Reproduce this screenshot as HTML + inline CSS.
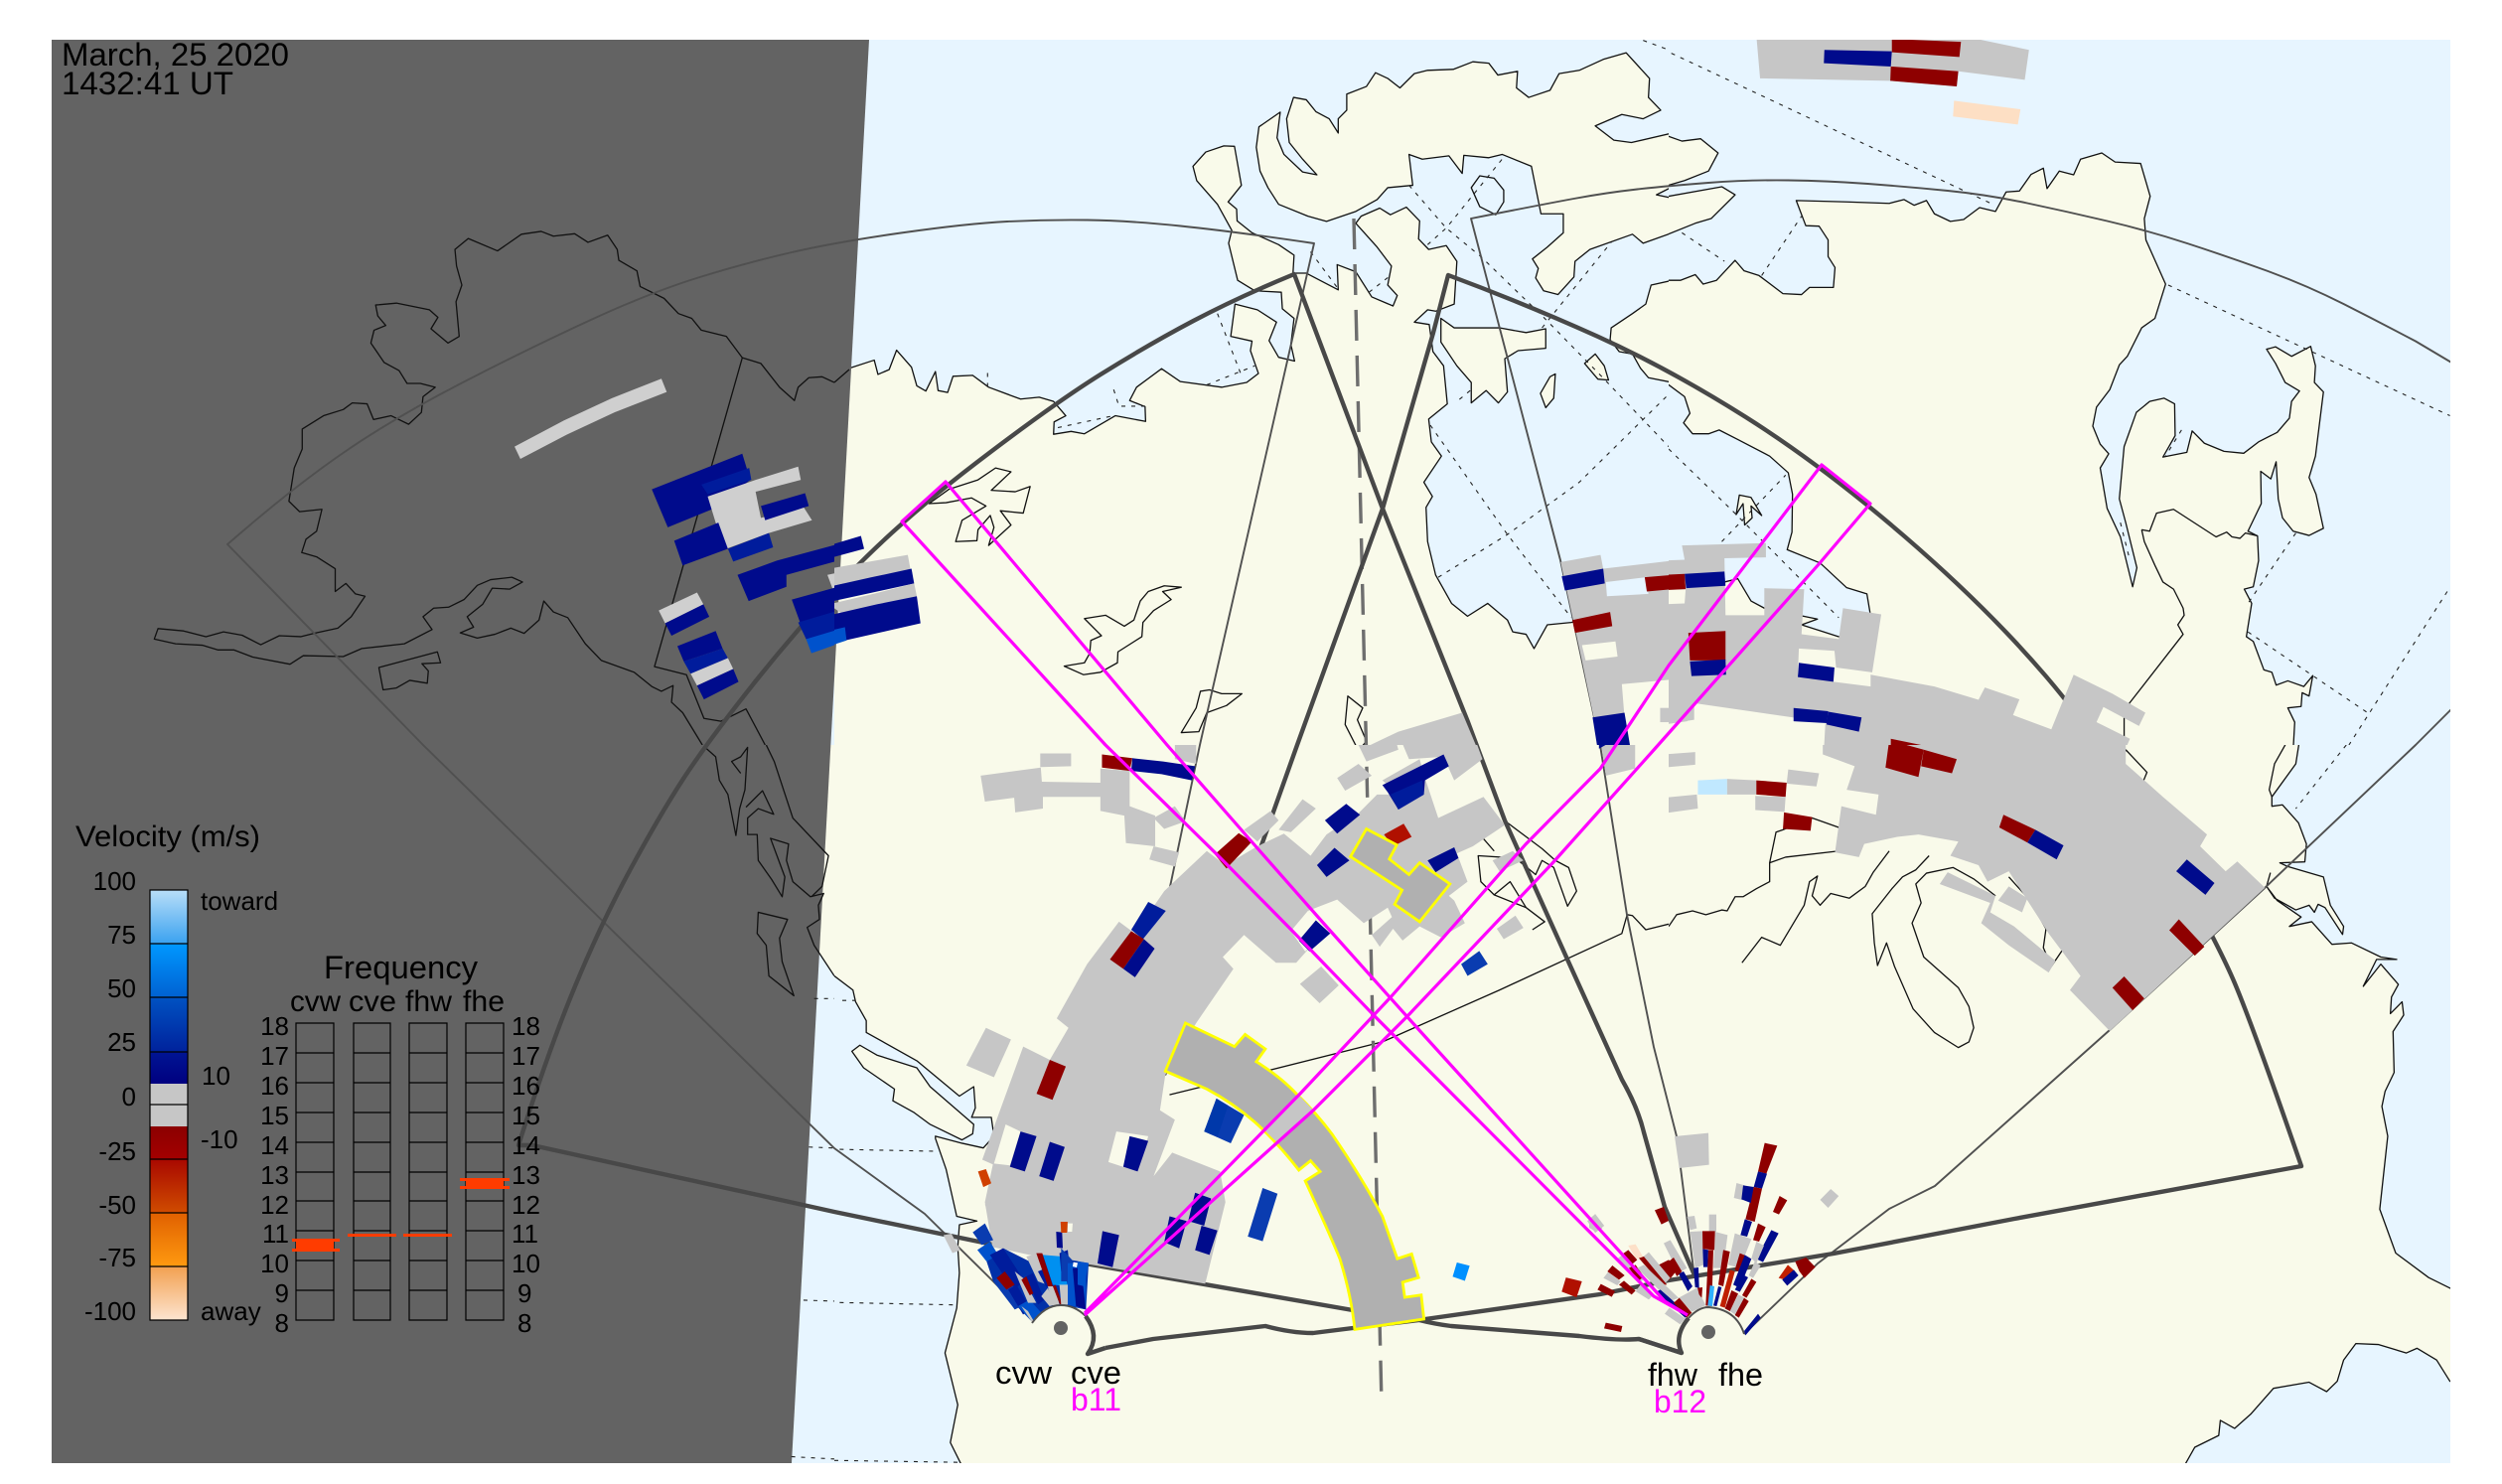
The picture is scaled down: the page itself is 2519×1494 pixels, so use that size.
<!DOCTYPE html>
<html><head><meta charset="utf-8"><title>Velocity map</title>
<style>
html,body{margin:0;padding:0;background:#fff}
svg{display:block}
svg *{vector-effect:non-scaling-stroke}
text{font-family:"Liberation Sans",sans-serif;fill:#000;vector-effect:none}
.l{fill:#f9faea;stroke:#111;stroke-width:1.3;stroke-linejoin:round}
.w{fill:#e7f5ff;stroke:#111;stroke-width:1.3;stroke-linejoin:round}
.c{fill:none;stroke:#111;stroke-width:1.3;stroke-linejoin:round}
.d{fill:none;stroke:#222;stroke-width:1.1;stroke-dasharray:4 6}
.thin{fill:none;stroke:#505050;stroke-width:1.9;stroke-linejoin:round}
.thick{fill:none;stroke:#484848;stroke-width:4.4;stroke-linejoin:round}
.m{fill:none;stroke:#ff00ff;stroke-width:3.2;stroke-linejoin:round}
.g{fill:#c6c6c6}.lg{fill:#cfcfcf}.n{fill:#000b8c}.b{fill:#001c9c}.b2{fill:#0a3cb0}.b3{fill:#0052cc}.b4{fill:#0090f0}
.r{fill:#8e0000}.r2{fill:#c02000}.cr{fill:#f9faea}.wa{fill:#e7f5ff}
.y{fill:#b0b0b0;stroke:#ffff00;stroke-width:2.8;stroke-linejoin:miter}
.k{fill:none;stroke:#000;stroke-width:1.2}
.o{fill:#ff3c00}
</style></head><body>
<svg xmlns="http://www.w3.org/2000/svg" width="2519" height="1494" viewBox="0 0 2519 1494">
<defs>
<linearGradient id="c1" x1="0" y1="0" x2="0" y2="1"><stop offset="0" stop-color="#b8def8"/><stop offset="1" stop-color="#3ba2f0"/></linearGradient>
<linearGradient id="c2" x1="0" y1="0" x2="0" y2="1"><stop offset="0" stop-color="#0098ff"/><stop offset="1" stop-color="#0062d2"/></linearGradient>
<linearGradient id="c3" x1="0" y1="0" x2="0" y2="1"><stop offset="0" stop-color="#0052c2"/><stop offset="1" stop-color="#00229c"/></linearGradient>
<linearGradient id="c4" x1="0" y1="0" x2="0" y2="1"><stop offset="0" stop-color="#001594"/><stop offset="1" stop-color="#000080"/></linearGradient>
<linearGradient id="c5" x1="0" y1="0" x2="0" y2="1"><stop offset="0" stop-color="#8b0000"/><stop offset="1" stop-color="#a40000"/></linearGradient>
<linearGradient id="c6" x1="0" y1="0" x2="0" y2="1"><stop offset="0" stop-color="#a80800"/><stop offset="1" stop-color="#d04c00"/></linearGradient>
<linearGradient id="c7" x1="0" y1="0" x2="0" y2="1"><stop offset="0" stop-color="#e06000"/><stop offset="1" stop-color="#ff9a10"/></linearGradient>
<linearGradient id="c8" x1="0" y1="0" x2="0" y2="1"><stop offset="0" stop-color="#f2a050"/><stop offset="1" stop-color="#fde4d0"/></linearGradient>
</defs>
<rect width="2519" height="1494" fill="#e7f5ff"/>

<!-- MAP TILE 2 -->
<svg x="840" y="0" width="840" height="750" viewBox="0 0 1568 1568" preserveAspectRatio="none">
<polygon class="l" points="-10,810 0,800 28,775 75,758 82,788 103,778 117,737 145,773 155,812 172,823 190,782 195,822 213,826 223,792 260,790 290,815 350,840 385,836 412,845 435,875 413,888 412,914 445,908 470,913 528,875 585,887 584,856 555,843 568,815 615,776 650,803 728,815 775,805 797,786 782,738 785,718 745,708 753,640 795,652 831,678 817,717 835,752 865,760 858,725 864,670 842,650 840,615 790,612 758,590 741,512 747,485 720,430 681,380 674,350 698,320 732,307 752,308 765,390 740,425 756,440 757,465 785,490 835,515 864,537 862,575 887,575 947,610 945,557 980,572 1010,625 1050,644 1058,622 1040,600 1047,560 1020,520 980,470 990,455 1025,438 1045,452 1075,436 1100,465 1098,503 1117,525 1150,517 1170,550 1165,640 1130,655 1115,652 1090,678 1118,683 1125,740 1145,770 1152,850 1117,882 1122,930 1141,960 1108,1015 1124,1045 1112,1068 1115,1140 1130,1210 1160,1270 1190,1297 1228,1270 1265,1305 1275,1330 1300,1335 1315,1365 1340,1315 1385,1310 1530,1270 1575,1232 1575,1580 -10,1580"/>
<polygon class="l" points="863,205 887,210 905,235 930,250 947,280 947,250 963,232 963,198 1000,182 1017,153 1040,165 1063,185 1090,155 1115,148 1163,146 1200,130 1230,133 1247,158 1284,150 1282,185 1305,205 1345,190 1362,155 1400,148 1445,125 1488,111 1532,165 1530,205 1553,232 1520,250 1480,241 1430,265 1465,295 1498,300 1575,280 1575,393 1545,410 1575,417 1575,490 1520,512 1500,493 1420,525 1392,550 1390,583 1360,620 1333,612 1318,585 1323,565 1312,545 1340,520 1370,490 1370,450 1328,450 1310,350 1255,325 1230,332 1183,327 1180,365 1155,328 1105,335 1080,325 1087,390 1040,395 1020,420 980,445 925,466 890,455 835,430 815,395 800,360 793,310 798,267 838,236 832,290 845,325 880,362 907,368 880,335 855,300 850,250"/>
<polygon class="w" points="1197,395 1213,370 1240,375 1258,400 1258,425 1243,452 1213,435"/>
<polygon class="l" points="1575,590 1535,600 1525,640 1500,660 1460,690 1458,715 1475,740 1500,745 1515,775 1530,795 1575,805"/>
<polygon class="l" points="1410,765 1430,745 1447,770 1455,800 1435,798"/>
<polygon class="l" points="1327,828 1345,793 1355,787 1352,838 1337,858"/>
<polygon class="l" points="1140,670 1165,690 1250,690 1300,700 1337,692 1337,733 1285,738 1260,755 1265,825 1248,848 1225,822 1197,848 1197,805 1170,770 1140,720"/>
<polygon class="l" points="178,1060 215,1030 270,1010 303,985 332,993 295,1032 340,1035 368,1024 355,1080 312,1075 332,1105 290,1148 300,1110 293,1085 270,1115 268,1138 228,1140 240,1095 285,1065 258,1048 210,1058"/>
<polygon class="l" points="652,1236 620,1233 590,1245 575,1265 563,1305 545,1318 510,1295 470,1302 502,1338 482,1348 480,1375 470,1395 432,1402 468,1420 500,1415 532,1395 533,1372 578,1340 580,1310 600,1285 633,1262 617,1245"/>
<polygon class="l" points="652,1542 680,1490 688,1455 705,1452 728,1460 766,1460 737,1485 700,1500 685,1540"/>
<polygon class="l" points="965,1465 993,1490 983,1515 1000,1560 985,1580 960,1525"/>
<polyline class="d" points="895,530 945,605"/><polyline class="d" points="1005,615 1045,580"/>
<polyline class="d" points="720,660 765,790"/><polyline class="d" points="700,810 790,770"/>
<polyline class="d" points="525,820 535,855 585,855"/><polyline class="d" points="420,900 525,875"/>
<polyline class="d" points="288,785 288,815"/>
<polyline class="d" points="1080,390 1150,480 1215,540 1335,670 1440,790 1568,940"/>
<polyline class="d" points="1115,515 1150,480 1255,335"/><polyline class="d" points="1330,690 1460,510"/>
<polyline class="d" points="1135,1215 1265,1125 1400,1015 1568,830"/>
<polyline class="d" points="1120,895 1265,1125 1385,1300"/><polyline class="d" points="1520,85 1568,105"/>
<polyline class="d" points="1195,822 1170,845"/>
</svg>

<!-- MAP TILE 3 -->
<svg x="1680" y="0" width="839" height="750" viewBox="0 0 1568 1568" preserveAspectRatio="none">
<polygon class="l" points="-10,283 25,297 60,292 93,322 75,360 30,380 -10,393"/>
<polygon class="l" points="-10,415 100,393 125,410 80,460 50,470 -10,497"/>
<polygon class="l" points="-10,590 22,590 50,578 65,598 90,590 125,548 142,570 170,580 215,618 250,620 265,605 310,605 313,563 300,540 300,505 283,476 258,475 240,422 335,425 415,428 443,420 462,432 485,422 500,450 530,466 555,462 585,437 615,445 635,404 660,402 682,367 705,354 712,397 735,360 762,368 775,335 815,322 840,341 888,344 906,413 895,460 898,505 935,598 915,670 890,690 863,750 848,768 830,820 805,857 798,897 812,935 828,955 812,985 825,1070 850,1130 873,1235 881,1195 860,1100 848,1050 857,940 880,868 905,845 932,838 952,850 953,917 930,962 975,952 985,907 1008,933 1045,950 1082,954 1110,930 1145,910 1168,880 1172,845 1187,823 1160,805 1142,765 1125,735 1142,730 1172,750 1208,729 1217,770 1215,805 1232,825 1217,960 1205,1005 1218,1040 1232,1112 1205,1127 1175,1118 1155,1090 1147,1050 1143,972 1133,1008 1114,992 1115,1060 1090,1118 1108,1128 1110,1180 1100,1235 1083,1240 1097,1270 1087,1340 1100,1350 1120,1410 1135,1415 1143,1442 1165,1433 1195,1445 1212,1422 1205,1465 1192,1458 1190,1487 1165,1490 1178,1520 1175,1580 -10,1580 -10,1230 105,1225 130,1218 155,1265 180,1280 280,1303 250,1315 320,1340 385,1330 373,1250 335,1237 285,1185 223,1157 232,1120 233,1040 225,995 190,960 130,925 95,905 75,913 45,913 28,890 40,870 30,835 0,810 -10,805"/>
<polygon class="l" points="127,1083 133,1042 155,1047 175,1085 155,1065 157,1090 143,1105 140,1060"/>
<polyline class="c" points="890,1115 905,1118 918,1080 950,1072 1030,1130 1050,1120 1060,1130 1075,1133 1085,1122 1108,1128"/>
<polyline class="c" points="890,1115 895,1140 915,1190 930,1225 950,1240 968,1280 970,1295 958,1315 968,1335 867,1480 857,1510 857,1580"/>
<polyline class="d" points="5,112 610,430"/><polyline class="d" points="25,490 105,550"/><polyline class="d" points="175,580 250,455"/>
<polyline class="d" points="940,600 1470,875"/><polyline class="d" points="965,905 935,960"/><polyline class="d" points="1180,1122 1090,1270"/>
<polyline class="d" points="1090,1330 1315,1500"/><polyline class="d" points="1465,1245 1280,1568"/>
<polyline class="d" points="0,945 120,1075 320,1300"/><polyline class="d" points="100,1140 220,1000"/>
<polyline class="d" points="850,1100 868,1180"/>
</svg>

<!-- MAP TILE 4 (land corner) -->
<svg x="0" y="750" width="840" height="744" viewBox="0 0 1568 1568" preserveAspectRatio="none">
<polygon fill="#f9faea" points="1480,-10 1575,-10 1575,500 1530,425 1517,387 1500,200"/>
</svg>

<!-- MAP TILE 5 -->
<svg x="840" y="750" width="840" height="744" viewBox="0 0 1568 1568" preserveAspectRatio="none">
<rect x="-10" y="-10" width="1600" height="1600" fill="#f9faea"/>
<polygon class="w" points="-20,485 0,490 35,520 40,545 60,585 60,610 155,670 235,745 262,725 265,770 258,790 295,790 300,830 280,855 240,845 190,830 190,835 210,900 230,1000 268,1010 235,1018 232,1065 235,1120 230,1195 208,1290 232,1400 218,1480 240,1530 240,1600 -20,1600"/>
<polygon class="l" points="33,650 48,637 80,658 155,685 180,725 262,805 260,825 240,838 180,805 150,780 110,755 113,730 55,685"/>
<polyline class="d" points="15,542 40,542"/><polyline class="d" points="10,858 190,862"/><polyline class="d" points="10,1183 225,1188"/><polyline class="d" points="0,1518 235,1522"/>
<polyline class="c" points="630,742 800,695 1030,630 1250,520 1480,400 1490,360 1500,362 1525,392 1568,380"/>
<polyline class="c" points="1265,165 1330,220 1355,245 1380,260 1395,310 1378,342 1352,260 1330,245 1318,275 1280,240 1210,235 1215,290 1240,318 1300,345 1335,375 1312,392"/>
<polyline class="c" points="1217,195 1240,225"/>
<polyline class="c" points="1240,318 1270,290 1300,345"/>
</svg>

<!-- MAP TILE 6 -->
<svg x="1680" y="750" width="839" height="744" viewBox="0 0 1568 1568" preserveAspectRatio="none">
<rect x="-10" y="-10" width="1600" height="1600" fill="#f9faea"/>
<polygon class="w" points="1187,-10 1180,40 1135,110 1135,130 1155,127 1185,165 1200,210 1197,248 1150,250 1165,258 1232,280 1245,340 1270,385 1268,402 1235,345 1222,338 1215,355 1205,340 1180,350 1140,325 1125,300 1132,272 1125,300 1145,330 1190,365 1168,385 1210,375 1248,423 1285,420 1340,450 1370,455 1332,455 1307,512 1340,465 1373,508 1360,535 1358,570 1380,545 1383,573 1363,608 1365,695 1348,735 1342,767 1353,830 1338,985 1368,1078 1430,1130 1480,1158 1600,1158 1600,-10"/>
<polygon class="w" points="1600,1358 1470,1350 1445,1305 1408,1280 1388,1290 1335,1272 1293,1270 1270,1305 1258,1350 1238,1372 1205,1352 1138,1365 1095,1420 1065,1450 1038,1433 1035,1465 990,1490 970,1530 960,1600 1600,1600"/>
<polyline class="c" points="1165,-10 1140,40 1130,95 1135,110"/>
<polyline class="d" points="1275,0 1180,135"/>
<polyline class="c" points="0,385 15,360 45,352 70,360 100,350 110,352 125,322 140,322 165,305 190,290 190,250 202,185 215,180 270,155 320,175"/>
<polyline class="c" points="138,462 175,408 210,425 255,340 265,290 280,278 270,320 285,340 305,315 340,325 370,300 385,270 415,225"/>
<polyline class="c" points="190,250 220,238 320,225"/>
<polyline class="c" points="490,235 465,265 440,280 420,305 383,358 387,420 393,468 410,420 425,470 460,560 500,610 545,642 565,630 574,600 565,555 545,515 500,470 480,450 458,378 475,335 465,295 485,272 535,260 575,285 615,320"/>
<polyline class="c" points="640,280 680,330 710,390 705,430 720,470 750,420"/>
<polyline class="c" points="860,10 900,58 890,85"/>
<polyline class="c" points="850,40 860,10"/>
</svg>

<!-- DARK MASK -->
<polygon fill="#636363" points="52,40 875,40 797,1473 52,1473"/>

<!-- COAST LINES ON DARK -->
<svg x="0" y="0" width="840" height="750" viewBox="0 0 1568 1568" preserveAspectRatio="none">
<polyline class="c" points="1568,805 1545,793 1520,795 1500,815 1493,843 1465,815 1430,765 1395,753 1365,708 1318,695 1300,670 1275,660 1248,628 1203,603 1197,570 1163,548 1160,525 1142,495 1105,510 1080,492 1040,497 1017,487 980,493 935,528 880,502 855,525 858,560 868,600 857,635 863,708 842,722 810,692 823,668 807,652 745,638 706,642 710,665 725,685 703,695 697,722 722,763 750,780 765,807 790,807 818,815 795,835 792,868 768,893 735,875 702,883 690,850 662,848 645,862 608,875 568,903 568,945 553,985 543,1055 563,1077 605,1072 595,1118 575,1135 567,1163 595,1172 630,1197 630,1245 650,1228 668,1250 686,1255 660,1298 635,1322 590,1333 565,1340 525,1338 490,1357 455,1337 420,1330 387,1340 345,1328 297,1323 290,1345 330,1355 380,1358 410,1368 440,1368 475,1383 545,1398 570,1380 645,1382 680,1365 760,1355 812,1325 795,1298 815,1280 843,1278 872,1262 897,1232 922,1220 962,1215 982,1225 958,1240 925,1238 907,1272 878,1298 890,1320 865,1332 897,1343 930,1335 960,1322 985,1333 1013,1305 1022,1265 1040,1288 1067,1300 1100,1355 1130,1390 1192,1415 1225,1445 1243,1455 1265,1443 1262,1478 1283,1500 1320,1568"/>
<polygon class="c" points="712,1405 822,1372 828,1395 793,1397 805,1412 803,1438 770,1432 745,1448 720,1452"/>
<polyline class="c" points="1395,753 1340,970 1230,1403 1290,1420 1323,1512 1355,1518 1402,1492 1438,1568"/>
</svg>
<svg x="0" y="750" width="840" height="744" viewBox="0 0 1568 1568" preserveAspectRatio="none">
<polyline class="c" points="1325,5 1345,25 1352,75 1368,105 1383,192 1390,135 1400,95 1405,5 1392,25 1375,35 1392,60"/>
<polyline class="c" points="1402,132 1433,97 1454,147 1425,135 1405,155 1405,190 1423,190 1425,245 1450,285 1470,322 1475,280 1448,198 1482,210 1478,245 1490,290 1523,322 1548,315 1538,340 1540,370 1517,387 1530,425 1568,490"/>
<polyline class="c" points="1440,0 1455,35 1490,155 1557,235 1545,300 1525,322"/>
<polygon class="c" points="1425,355 1480,370 1465,410 1470,460 1492,532 1445,490 1440,425 1423,400"/>
<polyline class="d" points="1530,538 1568,538"/><polyline class="d" points="1520,853 1565,855"/><polyline class="d" points="1510,1178 1568,1180"/><polyline class="d" points="1487,1510 1568,1515"/>
</svg>
<polyline class="c" points="840,385 855,372"/>

<!-- FOV LINES -->
<polyline class="d" style="stroke:#6e6e6e;stroke-width:3.4;stroke-dasharray:31 15" points="1363,220 1391,1414"/>
<path class="thin" d="M1041,1331 L1001,1291 L931,1222 L840,1156 L426,750 L229,548 Q292,493 344,457 Q396,421 466,385 Q536,349 596,321.5 Q656,294 703,279.5 Q750,265 795,254.5 Q840,244 907,234.5 Q974,225 1014,223 Q1054,221 1094.5,221.5 Q1135,222 1188.5,227.5 Q1242,233 1323,245 L1208,750 L1179,888 L1082,1319"/>
<path class="thin" d="M1706,1286 L1688,1144 L1665,1054 L1638,921 L1611,750 L1571,564 L1481,220 Q1552,206 1584.5,200 Q1617,194 1648.5,190.5 Q1680,187 1720,184 Q1760,181 1800,181.5 Q1840,182 1880.5,185 Q1921,188 1961,192 Q2001,196 2041,204.5 Q2081,213 2121.5,222.5 Q2162,232 2202,245 Q2242,258 2282,272.5 Q2322,287 2359.5,306 Q2397,325 2432,343.5 L2480,372"/>
<polyline class="thin" points="2480,702 2432,750 2279,895 2124,1037 1948,1194 1902,1217 1830,1272 1756,1343"/>
<path class="thick" d="M1172,1082 L1269,854 L1306,750 L1392,512 L1443,335 L1458,277 Q1536,306 1608,338.5 Q1680,371 1757,419.5 Q1834,468 1917.5,540 Q2001,612 2060,681 Q2119,750 2175,847.5 Q2231,945 2250,990 Q2269,1035 2317,1174 L2028,1227 L1846,1262 L1680,1289 L1611,1303 L1435,1328"/>
<path class="thick" d="M1362,1319 L1092,1272 L840,1220 L536,1153 L522,1153 Q552,1058 578.5,994 Q605,930 634.5,875.5 Q664,821 687,785.5 Q710,750 757,690.5 Q804,631 855.5,577.5 Q907,524 983.5,465.5 Q1060,407 1108,377 Q1156,347 1201.5,323 Q1247,299 1303,276 L1392,512 L1478,727 L1515,826 L1579,968 L1633,1087 Q1649,1115 1655,1140 L1676,1215 L1707,1286"/>
<path class="thick" d="M1113,1357 L1161,1348 L1274,1335 Q1300,1342 1322,1342 L1362,1337 L1429,1329 Q1445,1333 1461,1335 L1590,1345 Q1630,1350 1650,1348 L1693,1362"/>

<!-- CELLS TILE 1 -->
<svg x="0" y="0" width="840" height="750" viewBox="0 0 1568 1568" preserveAspectRatio="none">
<polygon class="lg" points="967,940 1060,885 1150,838 1243,797 1253,825 1155,868 1065,915 978,966"/>
<polygon class="n" points="1225,1030 1395,955 1410,1010 1338,1072 1255,1110"/>
<polygon class="b" points="1318,1020 1408,985 1412,1010 1330,1040"/>
<polygon class="lg" points="1330,1045 1420,1010 1500,982 1505,1010 1420,1035 1430,1090 1510,1067 1526,1095 1445,1122 1365,1155 1345,1100"/>
<polygon class="n" points="1430,1065 1513,1038 1520,1065 1438,1095"/>
<polygon class="n" points="1267,1138 1350,1100 1368,1155 1283,1190"/>
<polygon class="b" points="1368,1155 1445,1122 1453,1152 1378,1182"/>
<polygon class="n" points="1386,1210 1460,1180 1575,1145 1575,1180 1478,1210 1478,1235 1407,1265"/>
<polygon class="lg" points="1555,1210 1575,1205 1575,1235 1565,1240"/>
<polygon class="n" points="1488,1262 1575,1235 1575,1350 1515,1345"/>
<polygon class="b" points="1500,1310 1575,1285 1575,1325 1515,1345"/>
<polygon class="b3" points="1515,1345 1575,1325 1575,1355 1525,1375"/>
<polygon class="lg" points="1238,1285 1310,1247 1322,1272 1250,1312"/>
<polygon class="n" points="1250,1312 1322,1272 1333,1298 1262,1338"/>
<polygon class="n" points="1273,1360 1345,1328 1358,1365 1285,1392"/>
<polygon class="b" points="1285,1392 1358,1365 1368,1385 1298,1418"/>
<polygon class="lg" points="1298,1418 1368,1385 1378,1408 1310,1443"/>
<polygon class="n" points="1310,1443 1378,1408 1388,1435 1323,1472"/>
</svg>

<!-- CELLS TILE 2 -->
<svg x="840" y="0" width="840" height="750" viewBox="0 0 1568 1568" preserveAspectRatio="none">
<polygon class="n" points="-10,1148 50,1128 56,1155 -10,1175"/>
<polygon class="g" points="-10,1197 138,1168 143,1198 -10,1235"/>
<polygon class="n" points="-10,1235 70,1215 145,1197 150,1228 -10,1267"/>
<polygon class="g" points="-10,1272 80,1248 150,1228 155,1255 12,1290"/>
<polygon class="n" points="-10,1295 80,1272 155,1255 162,1312 20,1348 -10,1358"/>
<polygon class="b3" points="-10,1328 20,1320 23,1348 -10,1360"/>
<polygon class="g" points="1365,1183 1440,1168 1445,1197 1575,1180 1575,1430 1480,1440 1490,1580 1440,1580 1405,1390"/>
<polygon class="wa" points="1450,1225 1525,1215 1530,1250 1452,1255"/>
<polygon class="cr" points="1405,1358 1468,1350 1472,1382 1412,1390"/>
<polygon class="n" points="1367,1213 1445,1197 1448,1228 1373,1243"/>
<polygon class="r" points="1523,1215 1575,1210 1575,1240 1527,1245"/>
<polygon class="r" points="1387,1305 1458,1288 1462,1318 1392,1332"/>
<polygon class="n" points="1425,1510 1485,1500 1497,1580 1435,1580"/>
<polygon class="g" points="1552,1490 1575,1490 1575,1520 1552,1520"/>
<polygon class="g" points="985,1580 1060,1540 1180,1500 1210,1580"/>
</svg>

<!-- CELLS TILE 3 -->
<svg x="1680" y="0" width="839" height="750" viewBox="0 0 1568 1568" preserveAspectRatio="none">
<polygon class="g" points="165,75 550,75 678,105 670,168 545,150 542,182 417,170 172,165"/>
<polygon class="n" points="293,105 420,108 418,140 292,133"/>
<polygon class="r" points="420,82 550,88 547,120 420,110"/>
<polygon class="r" points="418,140 545,150 542,182 417,170"/>
<polygon fill="#fddfc4" points="537,212 662,230 657,262 535,245"/>
<polygon class="g" points="-10,1180 30,1178 25,1148 183,1143 183,1173 105,1175 107,1295 180,1295 180,1238 255,1240 250,1335 320,1345 328,1280 400,1293 383,1415 315,1405 312,1370 245,1365 243,1420 310,1435 380,1445 380,1420 500,1445 583,1473 595,1447 660,1472 648,1505 720,1535 740,1480 762,1420 835,1460 897,1500 885,1528 818,1488 805,1520 868,1555 858,1580 -10,1580"/>
<polygon class="cr" points="48,1480 295,1520 292,1580 -10,1580 -10,1525 48,1515"/>
<polygon class="cr" points="-10,1272 30,1270 32,1240 -10,1242"/>
<polygon class="g" points="-10,1485 48,1485 35,1518 -10,1525"/>
<polygon class="n" points="30,1208 105,1203 107,1233 33,1238"/>
<polygon class="r" points="-10,1210 30,1208 32,1240 -10,1242"/>
<polygon class="r" points="37,1332 107,1328 107,1390 40,1390"/>
<polygon class="n" points="40,1392 107,1388 108,1420 43,1423"/>
<polygon class="n" points="245,1395 312,1405 310,1435 243,1425"/>
<polygon class="n" points="235,1490 300,1497 298,1522 235,1518"/>
<polygon class="n" points="300,1498 363,1510 358,1540 297,1525"/>
<polygon class="r" points="418,1555 475,1568 475,1580 418,1580"/>
</svg>

<!-- CELLS TILE 5 -->
<svg x="840" y="750" width="840" height="744" viewBox="0 0 1568 1568" preserveAspectRatio="none">
<polygon class="g" points="387,18 445,18 445,45 387,47"/>
<polygon class="g" points="275,65 388,48 390,78 500,80 500,50 555,55 555,130 603,150 603,215 548,208 545,150 500,140 500,110 392,110 392,135 340,143 338,112 283,120"/>
<polygon class="g" points="600,155 640,130 660,162 620,178"/>
<polygon class="g" points="600,215 648,228 640,258 592,243"/>
<polygon class="g" points="640,-10 680,-10 680,40 640,30"/>
<polygon class="r" points="503,20 560,28 555,55 503,48"/>
<polygon class="n" points="560,28 618,35 678,45 672,75 615,62 558,55"/>
<polygon class="g" points="297,1065 283,970 298,890 278,880 305,795 355,640 405,668 440,600 418,580 475,465 535,375 565,400 620,310 700,225 735,255 795,215 845,188 895,235 925,190 985,145 1020,105 1060,105 1030,75 1100,30 1110,70 1135,155 1220,110 1260,170 1200,215 1170,230 1190,290 1155,320 1165,330 1185,378 1140,408 1100,385 1068,415 1050,390 1025,428 1010,403 1048,365 1040,345 995,378 945,328 890,352 925,390 868,462 830,462 770,403 730,450 750,475 680,590 622,700 612,775 640,795 600,915 635,865 725,905 735,970 697,1143 470,1100 380,1085"/>
<polygon class="cr" points="530,820 590,830 570,905 515,885"/>
<polygon class="cr" points="322,805 350,820 330,892 300,888"/>
<polygon class="cr" points="890,352 925,390 885,438 858,395"/>
<polygon class="g" points="1065,-10 1205,-10 1218,30 1165,75 1145,25 1080,30"/>
<polygon class="g" points="835,180 880,115 905,135 858,185"/>
<polygon class="g" points="770,180 820,140 835,160 795,205"/>
<polygon class="g" points="945,70 985,40 1010,65 960,97"/>
<polygon class="g" points="985,0 1055,-10 1060,10 1000,35"/>
<polygon class="g" points="1237,245 1275,225 1295,245 1250,268"/>
<polygon class="g" points="1245,390 1280,362 1295,388 1258,412"/>
<polygon class="g" points="915,470 948,510 912,548 875,507"/>
<polygon class="g" points="285,600 332,625 300,705 248,680"/>
<polygon class="g" points="1440,-10 1505,-10 1505,50 1450,65"/>
<polygon class="n" points="1437,-10 1465,-10 1437,8"/>
<polygon class="b" points="590,333 623,352 580,412 558,392"/>
<polygon class="r" points="558,395 582,412 543,475 518,455"/>
<polygon class="n" points="582,412 602,432 565,493 543,475"/>
<polygon class="r" points="715,232 760,187 785,205 737,262"/>
<polygon class="r" points="405,668 435,682 410,753 380,740"/>
<polygon class="n" points="350,820 380,830 358,905 330,895"/>
<polygon class="n" points="405,842 433,853 412,925 385,915"/>
<polygon class="n" points="555,830 590,840 570,905 543,895"/>
<polygon class="n" points="905,372 932,400 893,438 873,415"/>
<polygon class="b2" points="718,750 770,785 745,845 695,820"/>
<polygon fill="#0038aa" points="718,750 740,765 720,832 695,820"/>
<polygon class="b2" points="805,940 833,952 805,1053 777,1043"/>
<polygon class="b2" points="1212,437 1228,465 1190,490 1178,465"/>
<polygon fill="#0090ff" points="1170,1098 1194,1105 1185,1137 1162,1128"/>
<polygon class="n" points="962,125 988,148 945,188 922,160"/>
<polygon class="n" points="940,218 968,245 925,280 907,255"/>
<polygon class="n" points="1030,85 1145,20 1155,45 1110,75 1108,105 1060,137 1040,100"/>
<polygon class="b" points="1045,105 1105,75 1108,105 1060,137"/>
<polygon fill="#b01000" points="1033,190 1070,167 1085,195 1050,215"/>
<polygon class="n" points="1115,245 1165,217 1173,240 1130,270"/>
<polygon class="n" points="505,1033 535,1040 523,1108 495,1100"/>
<polygon class="n" points="678,950 708,962 695,1020 665,1010"/>
<polygon class="n" points="630,1000 662,1010 648,1068 620,1055"/>
<polygon class="n" points="690,1020 720,1030 705,1082 678,1072"/>
<polygon fill="#d04000" points="270,905 285,900 295,930 280,938"/>
<polygon class="g" points="283,975 295,970 305,1000 298,1010"/>
<polygon class="g" points="205,1040 220,1037 237,1072 222,1078"/>
<polygon class="y" points="1000,178 1057,212 1043,242 1080,275 1100,250 1157,295 1100,375 1053,338 1067,308 970,237"/>
<path class="y" d="M660,590 L752,640 L772,614 L810,645 L793,672 Q840,705 870,742 Q905,780 935,825 Q990,915 1030,1000 L1058,1090 L1085,1080 L1098,1130 L1068,1140 L1072,1172 L1103,1167 L1108,1218 L978,1240 Q972,1170 950,1090 Q930,1035 885,925 L913,905 L895,882 L873,902 Q830,840 790,800 Q750,760 700,730 L622,692 Z"/>
<polygon class="g" points="872,742 902,777 832,843 806,815"/>
<polygon fill="#b01000" points="1367,1160 1375,1130 1405,1138 1395,1172"/>
<polygon class="g" points="1415,1010 1430,995 1447,1020 1430,1035"/>
</svg>

<!-- CELLS TILE 6 -->
<svg x="1680" y="750" width="839" height="744" viewBox="0 0 1568 1568" preserveAspectRatio="none">
<polygon class="g" points="290,-10 860,-10 860,40 930,110 1013,190 1000,215 1048,268 1070,247 1122,303 830,607 755,520 775,490 715,400 640,268 600,290 583,255 530,235 545,205 470,190 430,195 368,210 358,238 313,228 325,130 390,148 395,105 335,95 350,45 290,20"/>
<polygon class="g" points="510,295 525,270 615,320 605,355 650,385 728,458 715,483 640,425 588,378 605,335"/>
<polygon class="g" points="640,300 675,325 665,355 620,330"/>
<polygon class="g" points="-10,20 50,15 50,42 -10,48"/>
<polygon class="g" points="225,52 283,60 278,88 222,82"/>
<polygon class="g" points="-10,112 53,105 55,135 -10,145"/>
<polygon fill="#c0e8ff" points="55,75 110,72 110,105 55,105"/>
<polygon class="g" points="110,72 165,75 165,105 110,105"/>
<polygon class="r" points="165,75 222,80 220,110 165,105"/>
<polygon class="g" points="163,108 220,110 218,142 163,138"/>
<polygon class="r" points="217,143 270,153 267,182 215,178"/>
<polygon class="r" points="415,-10 480,10 470,68 408,48"/>
<polygon class="r" points="480,10 542,30 533,60 475,45"/>
<polygon class="r" points="630,148 690,180 675,207 622,175"/>
<polygon class="n" points="690,180 743,213 730,243 675,207"/>
<polygon class="n" points="975,243 1027,293 1010,318 955,268"/>
<polygon class="r" points="960,370 1008,428 990,447 942,393"/>
<polygon class="r" points="857,491 895,538 873,563 835,515"/>
<polygon class="g" points="305,942 320,957 300,982 285,965"/>
</svg>

<!-- FAN CV -->
<svg x="960" y="1230" width="200" height="200" viewBox="0 0 600 600" preserveAspectRatio="none">
<polygon fill="#0030a8" points="120,180 100,120 150,80 250,130 270,100 408,125 400,265 325,250 240,305"/>
<polygon class="b2" points="58,32 95,5 120,55 85,70"/>
<polygon class="b3" points="72,85 110,60 135,100 100,120"/>
<polygon class="b" points="110,100 150,80 215,180 180,205"/>
<polygon class="b2" points="120,180 155,152 215,250 185,265"/>
<polygon class="r" points="130,170 155,150 185,190 160,205"/>
<polygon class="b" points="165,205 190,190 235,265 210,280"/>
<polygon class="b3" points="195,255 230,235 265,275 240,305"/>
<polygon class="g" points="205,255 225,270 245,305 238,305"/>
<polygon class="g" points="185,150 210,170 250,245 225,245"/>
<polygon class="r" points="205,175 220,165 245,215 230,222"/>
<polygon class="b" points="220,165 240,155 275,235 255,250"/>
<polygon class="g" points="220,105 260,95 295,195 255,180"/>
<polygon class="b" points="255,150 272,143 295,195 280,197"/>
<polygon class="r" points="250,95 268,95 300,195 285,195"/>
<polygon class="g" points="265,225 285,200 305,250 290,255"/>
<polygon class="g" points="285,195 305,195 320,250 300,255"/>
<polygon class="r" points="300,195 308,190 330,252 322,252"/>
<polygon class="b4" points="270,100 330,105 345,195 300,190"/>
<polygon class="b" points="320,95 345,85 350,130 325,150"/>
<polygon class="n" points="310,30 328,32 330,80 312,78"/>
<polygon class="b2" points="325,80 358,115 358,180 325,180"/>
<polygon class="b3" points="345,125 400,125 400,265 345,250"/>
<polygon class="n" points="360,140 385,140 400,265 370,255"/>
<polygon class="g" points="320,190 345,190 345,250 325,250"/>
<polygon class="b3" points="375,120 408,125 395,195 375,190"/>
<polygon fill="#fff" points="362,122 375,124 372,138 360,135"/>
<polygon fill="#d04000" points="323,-5 345,-5 343,33 325,33"/>
<polygon class="cr" points="345,5 360,5 358,30 345,30"/>
<polygon class="n" points="450,28 500,40 478,135 435,125"/>
</svg>

<!-- FAN FH -->
<svg x="1600" y="1130" width="240" height="300" viewBox="0 0 720 900" preserveAspectRatio="none">
<polygon class="g" points="258,42 360,32 362,128 272,138"/>
<polygon class="r" points="530,62 568,70 535,155 510,148"/>
<polygon class="n" points="510,148 537,155 522,200 497,195"/>
<polygon class="r" points="497,195 522,200 500,300 472,292"/>
<polygon class="g" points="445,183 470,190 465,235 437,228"/>
<polygon class="n" points="465,190 497,195 488,243 460,232"/>
<polygon class="n" points="470,292 492,300 477,345 457,340"/>
<polygon class="r" points="555,270 575,222 598,235 573,278"/>
<polygon class="r" points="495,355 510,305 533,316 513,360"/>
<polygon class="n" points="550,325 572,335 525,422 505,412"/>
<polygon class="g" points="296,285 318,282 325,320 305,325"/>
<polygon class="g" points="362,278 384,278 384,330 362,330"/>
<polygon class="g" points="305,330 342,328 345,430 320,440"/>
<polygon class="g" points="380,330 418,340 405,440 375,440"/>
<polygon class="r" points="342,328 380,328 378,385 343,382"/>
<polygon class="n" points="343,382 360,385 358,437 345,437"/>
<polygon class="r" points="360,385 375,385 370,555 352,553"/>
<polygon class="g" points="440,335 490,352 455,440 420,430"/>
<polygon class="r" points="405,385 425,390 405,495 390,490"/>
<polygon class="r" points="455,395 472,402 450,450 440,445"/>
<polygon class="n" points="470,400 490,412 455,500 435,490"/>
<polygon class="n" points="465,460 480,468 455,512 440,505"/>
<polygon class="g" points="505,360 528,372 505,425 490,410"/>
<polygon class="g" points="500,420 518,432 495,470 482,462"/>
<polygon class="r" points="490,472 505,482 475,530 462,522"/>
<polygon class="r2" points="425,445 440,450 410,560 395,555"/>
<polygon class="n" points="390,495 400,498 385,555 375,553"/>
<polygon class="g" points="450,520 470,530 440,580 425,570"/>
<polygon class="r" points="430,507 450,517 425,570 410,562"/>
<polygon class="r" points="468,530 482,540 452,590 440,582"/>
<polygon fill="#30b0ff" points="365,492 378,495 372,555 358,553"/>
<polygon class="n" points="315,440 330,438 332,500 320,498"/>
<polygon class="g" points="270,530 325,500 352,552 310,572"/>
<polygon class="r" points="327,500 342,498 340,530 332,520"/>
<polygon class="g" points="225,365 245,355 295,440 270,455"/>
<polygon class="n" points="270,457 285,450 312,495 298,510"/>
<polygon class="r" points="198,265 225,255 240,297 218,308"/>
<polygon class="r" points="210,430 240,415 270,440 240,478"/>
<polygon class="r" points="240,420 255,408 280,450 265,465"/>
<polygon class="g" points="160,408 180,392 245,470 225,490"/>
<polygon fill="#fde0c8" points="118,372 140,368 165,410 140,410"/>
<polygon class="g" points="80,415 100,400 170,470 150,485"/>
<polygon class="r" points="97,400 118,385 145,415 125,432"/>
<polygon class="r" points="120,440 140,430 165,465 150,478"/>
<polygon class="r" points="150,410 165,405 235,490 220,490"/>
<polygon class="g" points="145,440 165,430 270,530 245,540"/>
<polygon class="g" points="-5,280 25,300 40,320 20,330 -5,315"/>
<polygon class="g" points="43,470 57,452 95,480 85,492"/>
<polygon class="r" points="55,450 70,432 107,462 90,475"/>
<polygon class="r" points="90,490 105,478 140,508 128,520"/>
<polygon class="g" points="140,510 155,490 192,522 180,535"/>
<polygon class="r" points="25,505 35,488 78,510 68,527"/>
<polygon class="r" points="45,622 50,605 100,615 96,633"/>
<polygon class="n" points="202,512 215,505 300,580 290,590"/>
<polygon class="r" points="255,545 272,530 310,575 295,590"/>
<polygon class="g" points="228,578 242,560 290,592 275,610"/>
<polygon class="r" points="622,420 655,408 683,437 650,470 635,450"/>
<polygon class="r2" points="572,470 600,430 620,448 592,475"/>
<polygon class="n" points="583,475 618,445 632,462 598,493"/>
<polygon class="n" points="468,630 510,578 518,590 472,643"/>
</svg>

<!-- RADAR CIRCLES -->
<path fill="#f9faea" d="M1039,1332 Q1052,1314 1068,1314 Q1082,1314 1093,1325 Q1108,1345 1095,1363 L1041,1363 Z"/>
<path fill="#f9faea" d="M1692,1343 Q1693,1330 1700,1327 Q1710,1316 1720,1316 Q1748,1318 1756,1343 L1750,1365 L1693,1362 Z"/>
<path class="thin" d="M1039,1332 Q1052,1314 1068,1314 Q1082,1314 1093,1325"/>
<path class="thin" d="M1700,1327 Q1710,1316 1720,1316 Q1748,1318 1756,1343"/>
<path class="thick" d="M1093,1325 Q1108,1345 1095,1363 L1113,1357"/>
<path class="thick" d="M1650,1348 L1693,1362 Q1685,1345 1700,1327"/>
<circle cx="1068" cy="1337" r="7" fill="#636363"/>
<circle cx="1720" cy="1341" r="7" fill="#636363"/>

<!-- MAGENTA -->
<polyline class="m" points="1092,1322 1309,1101 1400,1004 1536,850 1611,774 1680,670 1834,468 1883,507 1832,567 1665,755 1563,869 1417,1023 1322,1118 1092,1324"/>
<polyline class="m" points="1699,1324 1676,1310 1427,1035 1333,930 1266,854 1175,750 952,485 908,525 1113,750 1226,861 1301,937 1384,1023 1665,1305 1699,1324"/>

<!-- MARGINS -->
<rect x="0" y="0" width="2519" height="40" fill="#fff"/>
<rect x="0" y="1473" width="2519" height="21" fill="#fff"/>
<rect x="0" y="0" width="52" height="1494" fill="#fff"/>
<rect x="2467" y="0" width="52" height="1494" fill="#fff"/>

<!-- TITLE -->
<text x="62" y="66" font-size="32" textLength="229" lengthAdjust="spacingAndGlyphs">March, 25 2020</text>
<text x="62" y="95" font-size="32" textLength="173" lengthAdjust="spacingAndGlyphs">1432:41 UT</text>

<!-- COLORBAR -->
<text x="76" y="852" font-size="30" textLength="186" lengthAdjust="spacingAndGlyphs">Velocity (m/s)</text>
<rect x="151" y="896" width="38" height="54" fill="url(#c1)"/>
<rect x="151" y="950" width="38" height="54" fill="url(#c2)"/>
<rect x="151" y="1004" width="38" height="55" fill="url(#c3)"/>
<rect x="151" y="1059" width="38" height="32" fill="url(#c4)"/>
<rect x="151" y="1091" width="38" height="21" fill="#c6c6c6"/>
<rect x="151" y="1112" width="38" height="22" fill="#c6c6c6"/>
<rect x="151" y="1134" width="38" height="33" fill="url(#c5)"/>
<rect x="151" y="1167" width="38" height="54" fill="url(#c6)"/>
<rect x="151" y="1221" width="38" height="54" fill="url(#c7)"/>
<rect x="151" y="1275" width="38" height="54" fill="url(#c8)"/>
<rect class="k" x="151" y="896" width="38" height="433"/>
<path class="k" d="M151 950H189M151 1004H189M151 1059H189M151 1112H189M151 1167H189M151 1221H189M151 1275H189"/>
<g font-size="26" text-anchor="end">
<text x="137" y="896">100</text><text x="137" y="950">75</text><text x="137" y="1004">50</text><text x="137" y="1058">25</text><text x="137" y="1113">0</text><text x="137" y="1168">-25</text><text x="137" y="1222">-50</text><text x="137" y="1275">-75</text><text x="137" y="1329">-100</text>
</g>
<g font-size="26">
<text x="202" y="916">toward</text><text x="203" y="1092">10</text><text x="202" y="1156">-10</text><text x="202" y="1329">away</text>
</g>

<!-- FREQUENCY -->
<text x="326" y="985" font-size="32" textLength="155" lengthAdjust="spacingAndGlyphs">Frequency</text>
<g font-size="30">
<text x="292" y="1018" textLength="51" lengthAdjust="spacingAndGlyphs">cvw</text>
<text x="351" y="1018" textLength="48" lengthAdjust="spacingAndGlyphs">cve</text>
<text x="408" y="1018" textLength="47" lengthAdjust="spacingAndGlyphs">fhw</text>
<text x="466" y="1018" textLength="42" lengthAdjust="spacingAndGlyphs">fhe</text>
</g>
<path class="k" d="M298 1030H336V1329H298ZM356 1030H393V1329H356ZM412 1030H450V1329H412ZM469 1030H507V1329H469Z"/>
<path class="k" d="M298 1060H336M298 1090H336M298 1120H336M298 1150H336M298 1180H336M298 1209H336M298 1239H336M298 1269H336M298 1299H336
M356 1060H393M356 1090H393M356 1120H393M356 1150H393M356 1180H393M356 1209H393M356 1239H393M356 1269H393M356 1299H393
M412 1060H450M412 1090H450M412 1120H450M412 1150H450M412 1180H450M412 1209H450M412 1239H450M412 1269H450M412 1299H450
M469 1060H507M469 1090H507M469 1120H507M469 1150H507M469 1180H507M469 1209H507M469 1239H507M469 1269H507M469 1299H507"/>
<g font-size="26" text-anchor="end">
<text x="291" y="1042">18</text><text x="291" y="1072">17</text><text x="291" y="1102">16</text><text x="291" y="1132">15</text><text x="291" y="1162">14</text><text x="291" y="1192">13</text><text x="291" y="1222">12</text><text x="291" y="1251">11</text><text x="291" y="1281">10</text><text x="291" y="1311">9</text><text x="291" y="1341">8</text>
</g>
<g font-size="26" text-anchor="start">
<text x="515" y="1042">18</text><text x="515" y="1072">17</text><text x="515" y="1102">16</text><text x="515" y="1132">15</text><text x="515" y="1162">14</text><text x="515" y="1192">13</text><text x="515" y="1222">12</text><text x="515" y="1251">11</text><text x="515" y="1281">10</text><text x="521" y="1311">9</text><text x="521" y="1341">8</text>
</g>
<rect class="o" x="298" y="1248" width="38" height="11"/><rect class="o" x="294" y="1247" width="48" height="3"/><rect class="o" x="294" y="1257" width="48" height="3"/>
<rect class="o" x="350" y="1242" width="49" height="3"/>
<rect class="o" x="406" y="1242" width="49" height="3"/>
<rect class="o" x="469" y="1186" width="38" height="11"/><rect class="o" x="463" y="1186" width="50" height="3"/><rect class="o" x="463" y="1194" width="50" height="3"/>

<!-- RADAR LABELS -->
<g font-size="32">
<text x="1002" y="1393" textLength="57" lengthAdjust="spacingAndGlyphs">cvw</text>
<text x="1078" y="1393" textLength="51" lengthAdjust="spacingAndGlyphs">cve</text>
<text x="1659" y="1395" textLength="50" lengthAdjust="spacingAndGlyphs">fhw</text>
<text x="1730" y="1395" textLength="45" lengthAdjust="spacingAndGlyphs">fhe</text>
<text x="1078" y="1420" textLength="51" lengthAdjust="spacingAndGlyphs" style="fill:#ff00ff">b11</text>
<text x="1665" y="1422" textLength="53" lengthAdjust="spacingAndGlyphs" style="fill:#ff00ff">b12</text>
</g>
</svg>
</body></html>
